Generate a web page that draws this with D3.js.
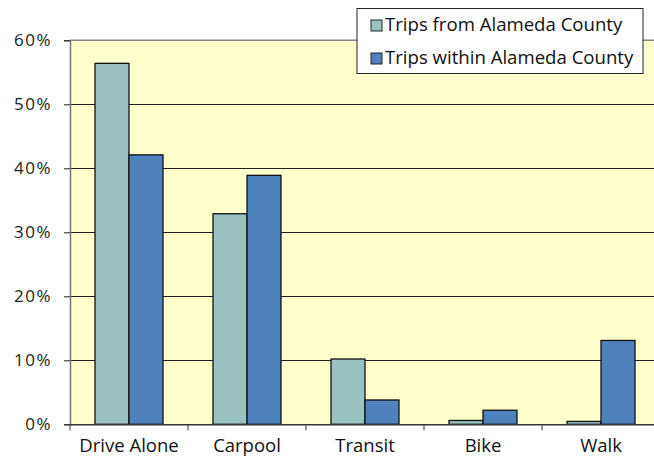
<!DOCTYPE html>
<html><head><meta charset="utf-8">
<script src="https://cdn.jsdelivr.net/npm/d3@7"></script>
<style>html,body{margin:0;padding:0;background:#fff;}svg{display:block;font-family:"Open Sans",sans-serif;}</style>
</head><body>
<svg id="c" width="654" height="457"></svg>
<script>
const categories = ["Drive Alone","Carpool","Transit","Bike","Walk"];
const seriesNames = ["Trips from Alameda County","Trips within Alameda County"];
const fromValues = [56.4, 32.9, 10.2, 0.6, 0.45];
const withinValues = [42.1, 38.9, 3.8, 2.2, 13.1];
const yTicks = [0,10,20,30,40,50,60];
const colors = ["#99C2C0","#4F81BD"];

(function(){
const FONT = "Open Sans";
const svg = d3.select("#c");
const pL = 70, pR = 660, pT = 40.3, pB = 424.3;
const x = d3.scaleBand().domain(categories).range([pL, pR]);
const xs = d3.scaleBand().domain([0,1]).range([0, 68]);
const y = d3.scaleLinear().domain([0,60]).range([pB, pT]);

svg.append("rect").attr("x",pL).attr("y",pT).attr("width",pR-pL).attr("height",pB-pT).attr("fill","#FFFFCC");
svg.append("g").selectAll("line").data(yTicks.filter(d=>d>0&&d<60)).join("line")
  .attr("x1",pL).attr("x2",pR).attr("y1",d=>Math.round(y(d))+0.5).attr("y2",d=>Math.round(y(d))+0.5)
  .attr("stroke","#222").attr("stroke-width",1.2);
svg.append("line").attr("x1",pL).attr("x2",pR).attr("y1",pT).attr("y2",pT).attr("stroke","#888").attr("stroke-width",1.5);

const data = categories.map((c,i)=>({c, vals:[fromValues[i], withinValues[i]]}));
const g = svg.append("g").selectAll("g").data(data).join("g")
  .attr("transform", d=>`translate(${x(d.c)+x.bandwidth()/2-34},0)`);
g.selectAll("rect").data(d=>d.vals.map((v,k)=>({v,k}))).join("rect")
  .attr("x",d=>xs(d.k)).attr("width",xs.bandwidth())
  .attr("y",d=>y(d.v)).attr("height",d=>y(0)-y(d.v))
  .attr("fill",d=>colors[d.k]).attr("stroke","#111").attr("stroke-width",1.3);

const yAxis = d3.axisLeft(y).tickValues(yTicks).tickFormat(d=>d+"%").tickSize(6).tickPadding(12);
const ya = svg.append("g").attr("transform",`translate(${pL},0)`).call(yAxis);
ya.select(".domain").attr("stroke","#777").attr("stroke-width",1.5);
ya.selectAll(".tick line").attr("stroke","#222");
ya.selectAll("text").attr("font-size",17).attr("letter-spacing",1.5).attr("fill","#222").attr("font-family",FONT);

const xAxis = d3.axisBottom(x).tickSize(0).tickPadding(15);
const xa = svg.append("g").attr("transform",`translate(0,${pB})`).call(xAxis);
xa.select(".domain").attr("stroke","#333").attr("stroke-width",1.5);
xa.selectAll("text").attr("font-size",18.5).attr("fill","#111").attr("font-family",FONT);
xa.append("g").selectAll("line").data(categories).join("line")
  .attr("x1",d=>x(d)).attr("x2",d=>x(d)).attr("y1",0).attr("y2",6).attr("stroke","#333");

const lg = svg.append("g");
lg.append("rect").attr("x",357).attr("y",8.5).attr("width",286).attr("height",65).attr("fill","#fff").attr("stroke","#222").attr("stroke-width",1);
seriesNames.forEach((n,i)=>{
  const yy = 25 + i*33;
  lg.append("rect").attr("x",371).attr("y",yy-5).attr("width",11).attr("height",11).attr("fill",colors[i]).attr("stroke","#222");
  lg.append("text").attr("x",385).attr("y",yy+6).attr("font-size",18.6).attr("fill","#111").attr("font-family",FONT).text(n);
});
})();
</script>
</body></html>
